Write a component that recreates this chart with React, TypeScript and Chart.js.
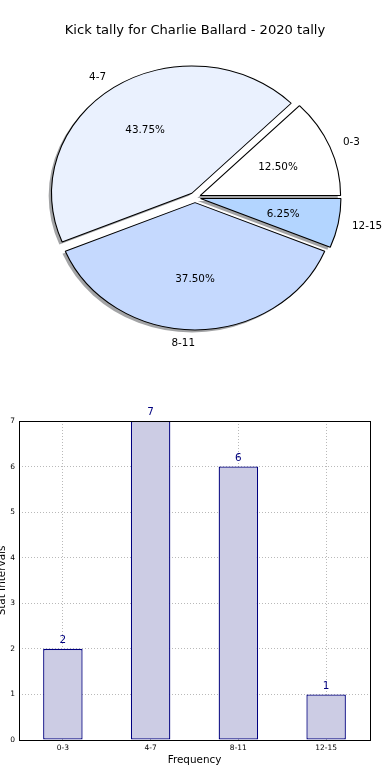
import React, { useEffect, useRef } from 'react';
import { Chart, registerables } from 'chart.js';

Chart.register(...registerables);

// ---- data ----
const categories = ['0-3', '4-7', '8-11', '12-15'];
const counts = [2, 7, 6, 1];
const pieColors = ['#ffffff', '#eaf1fe', '#c5d9fe', '#b3d5ff'];
const yTickMax = 7;
const chartTitle = 'Kick tally for Charlie Ballard - 2020 tally';
const xAxisTitle = 'Frequency';
const yAxisTitle = 'Stat Intervals';

// ---- styling / geometry ----
const FONT = '"DejaVu Sans", sans-serif';
const PIE_R = 127.3; // vertical radius (px)
const PIE_K = 1.103; // horizontal stretch (elliptical pie)
const EXPLODE = 0.04;
const SHADOW = 0.02;
const BAR_FILL = '#cccce4';
const BAR_EDGE = '#00007f';
const GRID = 'rgba(128,128,128,0.55)';

const pieOrder = [3, 2, 1, 0]; // clockwise from east == matplotlib counter-clockwise

const ellipsePiePlugin = {
  id: 'ellipsePie',
  beforeDatasetsDraw(chart: any) {
    const ctx = chart.ctx;
    const area = chart.chartArea;
    const cx = (area.left + area.right) / 2;
    const cy = (area.top + area.bottom) / 2;
    const meta = chart.getDatasetMeta(0);
    const off = EXPLODE * PIE_R;
    ctx.save();
    ctx.translate(cx, cy);
    ctx.scale(PIE_K, 1);
    ctx.translate(-cx, -cy);
    meta.data.forEach((a: any) => {
      const mid = (a.startAngle + a.endAngle) / 2;
      a.x = cx + Math.cos(mid) * off;
      a.y = cy + Math.sin(mid) * off;
    });
    const s = SHADOW * PIE_R;
    meta.data.forEach((a: any) => {
      ctx.beginPath();
      ctx.moveTo(a.x - s, a.y + s);
      ctx.arc(a.x - s, a.y + s, a.outerRadius, a.startAngle, a.endAngle);
      ctx.closePath();
      ctx.fillStyle = 'rgba(72,74,77,0.5)';
      ctx.fill();
    });
  },
  afterDatasetsDraw(chart: any) {
    const ctx = chart.ctx;
    ctx.restore();
    const area = chart.chartArea;
    const cx = (area.left + area.right) / 2;
    const cy = (area.top + area.bottom) / 2;
    const meta = chart.getDatasetMeta(0);
    const vals: number[] = chart.data.datasets[0].data;
    const labels: string[] = chart.data.labels;
    const total = vals.reduce((p, v) => p + v, 0);
    const off = EXPLODE * PIE_R;
    ctx.save();
    ctx.fillStyle = '#000';
    ctx.font = `10.4px ${FONT}`;
    ctx.textBaseline = 'middle';
    meta.data.forEach((a: any, j: number) => {
      const mid = (a.startAngle + a.endAngle) / 2;
      const c = Math.cos(mid);
      const s = Math.sin(mid);
      const ex = cx + PIE_K * off * c;
      const ey = cy + off * s;
      ctx.textAlign = c > 1e-9 ? 'left' : 'right';
      ctx.fillText(labels[j], ex + PIE_K * 1.1 * PIE_R * c, ey + 1.1 * PIE_R * s + 0.5);
      ctx.textAlign = 'center';
      const pct = ((vals[j] / total) * 100).toFixed(2) + '%';
      ctx.fillText(pct, ex + PIE_K * 0.6 * PIE_R * c, ey + 0.6 * PIE_R * s + 0.5);
    });
    ctx.restore();
  },
  afterDraw(chart: any) {
    const ctx = chart.ctx;
    ctx.save();
    ctx.fillStyle = '#000';
    ctx.font = `13.1px ${FONT}`;
    ctx.textAlign = 'center';
    ctx.textBaseline = 'middle';
    ctx.fillText(chartTitle, chart.width / 2, 30.5);
    ctx.restore();
  },
};

const barDecorPlugin = {
  id: 'barDecor',
  afterDatasetsDraw(chart: any) {
    const ctx = chart.ctx;
    const meta = chart.getDatasetMeta(0);
    const vals: number[] = chart.data.datasets[0].data;
    ctx.save();
    ctx.fillStyle = BAR_EDGE;
    ctx.font = `10.4px ${FONT}`;
    ctx.textAlign = 'center';
    ctx.textBaseline = 'middle';
    meta.data.forEach((b: any, j: number) => {
      ctx.fillText(String(vals[j]), b.x, b.y - 8.5);
    });
    ctx.restore();
  },
  afterDraw(chart: any) {
    const ctx = chart.ctx;
    const a = chart.chartArea;
    ctx.save();
    ctx.strokeStyle = '#000';
    ctx.lineWidth = 1;
    ctx.strokeRect(a.left + 0.5, a.top + 0.5, a.right - a.left, a.bottom - a.top);
    ctx.restore();
  },
};

export default function App() {
  const pieRef = useRef<HTMLCanvasElement>(null);
  const barRef = useRef<HTMLCanvasElement>(null);

  useEffect(() => {
    const pie = new Chart(pieRef.current as HTMLCanvasElement, {
      type: 'pie',
      data: {
        labels: pieOrder.map((i) => categories[i]),
        datasets: [
          {
            data: pieOrder.map((i) => counts[i]),
            backgroundColor: pieOrder.map((i) => pieColors[i]),
            borderColor: '#000',
            borderWidth: 1,
            offset: 0,
            clip: false,
          } as any,
        ],
      },
      options: {
        animation: false,
        responsive: false,
        events: [],
        rotation: 90,
        radius: PIE_R,
        layout: { padding: 0 },
        plugins: { legend: { display: false }, tooltip: { enabled: false }, title: { display: false } },
      } as any,
      plugins: [ellipsePiePlugin],
    });

    const tickFont = { family: FONT, size: 7.5 };
    const bar = new Chart(barRef.current as HTMLCanvasElement, {
      type: 'bar',
      data: {
        labels: categories,
        datasets: [
          {
            data: counts,
            backgroundColor: BAR_FILL,
            borderColor: BAR_EDGE,
            borderWidth: 1.3,
            borderSkipped: false,
            barPercentage: 0.45,
            categoryPercentage: 1,
          } as any,
        ],
      },
      options: {
        animation: false,
        responsive: false,
        events: [],
        layout: { padding: { top: 26, right: 20, left: 0, bottom: 0 } },
        plugins: { legend: { display: false }, tooltip: { enabled: false } },
        scales: {
          x: {
            offset: true,
            z: 1,
            grid: { offset: false, color: GRID, drawTicks: false, lineWidth: 1 },
            border: { display: false, dash: [1, 2] },
            ticks: { font: tickFont, color: '#000', padding: 4, maxRotation: 0, autoSkip: false },
            title: {
              display: true,
              text: xAxisTitle,
              color: '#000',
              font: { family: FONT, size: 10.4 },
              padding: { top: 0, bottom: 13.8 },
            },
            afterFit: (s: any) => {
              s.height = 40;
            },
          },
          y: {
            min: 0,
            max: yTickMax,
            z: 1,
            grid: { color: GRID, drawTicks: false, lineWidth: 1 },
            border: { display: false, dash: [1, 2] },
            ticks: { stepSize: 1, font: tickFont, color: '#000', padding: 4 },
            title: {
              display: true,
              text: yAxisTitle,
              color: '#000',
              font: { family: FONT, size: 10.4, lineHeight: 0.45 },
              padding: 0,
            },
            afterFit: (s: any) => {
              s.width = 19;
            },
          },
        },
      } as any,
      plugins: [barDecorPlugin],
    });

    return () => {
      pie.destroy();
      bar.destroy();
    };
  }, []);

  return (
    <div style={{ position: 'fixed', left: 0, top: 0, width: 390, height: 780, background: '#fff' }}>
      <canvas
        ref={pieRef}
        width={390}
        height={395}
        style={{ position: 'absolute', left: 0, top: 0, width: 390, height: 395 }}
      />
      <canvas
        ref={barRef}
        width={390}
        height={385}
        style={{ position: 'absolute', left: 0, top: 395, width: 390, height: 385 }}
      />
    </div>
  );
}
